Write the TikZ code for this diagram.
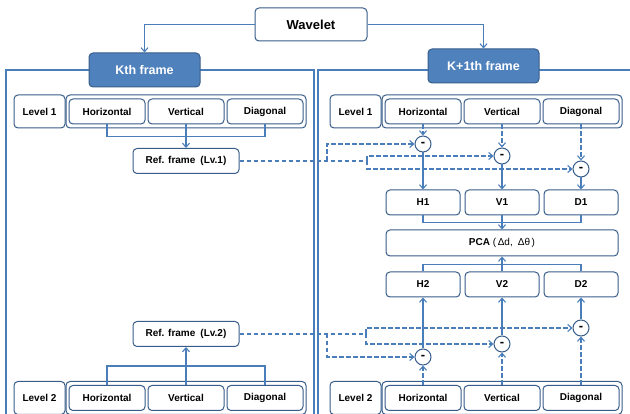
\documentclass[tikz,border=0pt]{standalone}
\usepackage{fontspec}
\setmainfont{Liberation Sans}
\usetikzlibrary{arrows.meta}

\definecolor{lineblue}{HTML}{4A7EBB}
\definecolor{headblue}{HTML}{4F81BD}
\definecolor{edgeblue}{HTML}{385D8A}

\tikzset{
  box/.style={draw=edgeblue, line width=1pt, rounded corners=4pt, fill=white,
    inner sep=0pt, font=\fontsize{10}{12}\selectfont\bfseries},
  headbox/.style={box, fill=headblue, text=white, minimum width=111pt, minimum height=34pt,
    font=\fontsize{12.5}{14}\selectfont\bfseries},
  bandbox/.style={box, minimum width=76pt, minimum height=25pt},
  minusnode/.style={circle, draw=edgeblue, line width=1pt, fill=white, minimum size=16pt,
    inner sep=0pt, font=\fontsize{13}{13}\selectfont\bfseries},
  conn/.style={draw=lineblue, line width=1.1pt},
  dconn/.style={conn, dash pattern=on 4.5pt off 2.5pt},
  >={Straight Barb[length=4pt,width=7pt]}
}

\begin{document}
\begin{tikzpicture}[x=1pt, y=-1pt]
\useasboundingbox (0,0) rectangle (630,414);
\clip (0,0) rectangle (630,414);

% outer frames
\draw[conn] (6,440) -- (6,70) -- (314,70) -- (314,440);
\draw[conn] (318,440) -- (318,70) -- (650,70);

% top
\node[box, minimum width=112pt, minimum height=33pt, font=\fontsize{13}{15}\selectfont\bfseries] (wav) at (311,24.5) {Wavelet};
\node[headbox] (kf) at (144.5,70) {Kth frame};
\node[headbox] (nf) at (483.5,66) {K+1th frame};
\draw[conn,->] (wav.west) -| (kf.north);
\draw[conn,->] (wav.east) -| (nf.north);

% level rows, both frames
\foreach \s/\dx in {K/0,N/316}
  \foreach \l/\y in {1/111.5,2/398}{
    \node[box, minimum width=51pt, minimum height=33pt] (\s-lv-\l) at (39.5+\dx,\y) {Level \l};
    \node[box, minimum width=240pt, minimum height=33pt] (\s-g-\l) at (186+\dx,\y) {};
    \node[bandbox] (\s-h-\l) at (107+\dx,\y) {Horizontal};
    \node[bandbox] (\s-v-\l) at (186+\dx,\y) {Vertical};
    \node[bandbox] (\s-d-\l) at (265+\dx,\y) {Diagonal};
  }

% reference frames
\node[box, minimum width=106pt, minimum height=25pt] (ref1) at (186,161) {Ref. frame\enspace(Lv.1)};
\node[box, minimum width=106pt, minimum height=25pt] (ref2) at (186,334) {Ref. frame\enspace(Lv.2)};
\draw[conn] (K-h-1.south) -- ++(0,12) -| (K-d-1.south);
\draw[conn,->] (K-v-1.south) -- (ref1.north);
\draw[conn] (K-h-2.north) -- ++(0,-19) -| (K-d-2.north);
\draw[conn,->] (K-v-2.north) -- (ref2.south);

% differences
\node[minusnode] (mh1) at (423,144) {-};
\node[minusnode] (mv1) at (502,156) {-};
\node[minusnode] (md1) at (581,169) {-};
\node[minusnode] (mh2) at (423,357) {-};
\node[minusnode] (mv2) at (502,344) {-};
\node[minusnode] (md2) at (581,328) {-};

\node[bandbox, minimum width=74pt] (H1) at (423,202.5) {H1};
\node[bandbox, minimum width=74pt] (V1) at (502,202.5) {V1};
\node[bandbox, minimum width=74pt] (D1) at (581,202.5) {D1};
\node[bandbox, minimum width=74pt] (H2) at (423,284.5) {H2};
\node[bandbox, minimum width=74pt] (V2) at (502,284.5) {V2};
\node[bandbox, minimum width=74pt] (D2) at (581,284.5) {D2};
\node[box, minimum width=232pt, minimum height=26pt] (pca) at (502,243)
  {PCA \mdseries(\,Δd,\enspace Δθ\,)};

\foreach \b in {h,v,d}{
  \draw[dconn,->] (N-\b-1.south) -- (m\b1.north);
  \draw[dconn,->] (N-\b-2.north) -- (m\b2.south);
}
\draw[conn,->] (mh1.south) -- (H1.north);
\draw[conn,->] (mv1.south) -- (V1.north);
\draw[conn,->] (md1.south) -- (D1.north);
\draw[conn,->] (mh2.north) -- (H2.south);
\draw[conn,->] (mv2.north) -- (V2.south);
\draw[conn,->] (md2.north) -- (D2.south);

\draw[conn] (H1.south) -- ++(0,7) -| (D1.south);
\draw[conn,->] (V1.south) -- (pca.north);
\draw[conn] (H2.north) -- ++(0,-7) -| (D2.north);
\draw[conn,->] (V2.north) -- (pca.south);

% reference feeds
\coordinate (j1a) at (327,161);
\coordinate (j1b) at (367,161);
\coordinate (j2a) at (327,334);
\coordinate (j2b) at (366,334);
\draw[dconn] (ref1.east) -- (j1b);
\draw[dconn,->] (j1a) |- (mh1.west);
\draw[dconn,->] (j1b) |- (mv1.west);
\draw[dconn,->] (j1b) |- (md1.west);
\draw[dconn] (ref2.east) -- (j2b);
\draw[dconn,->] (j2a) |- (mh2.west);
\draw[dconn,->] (j2b) |- (mv2.west);
\draw[dconn,->] (j2b) |- (md2.west);
\end{tikzpicture}
\end{document}
